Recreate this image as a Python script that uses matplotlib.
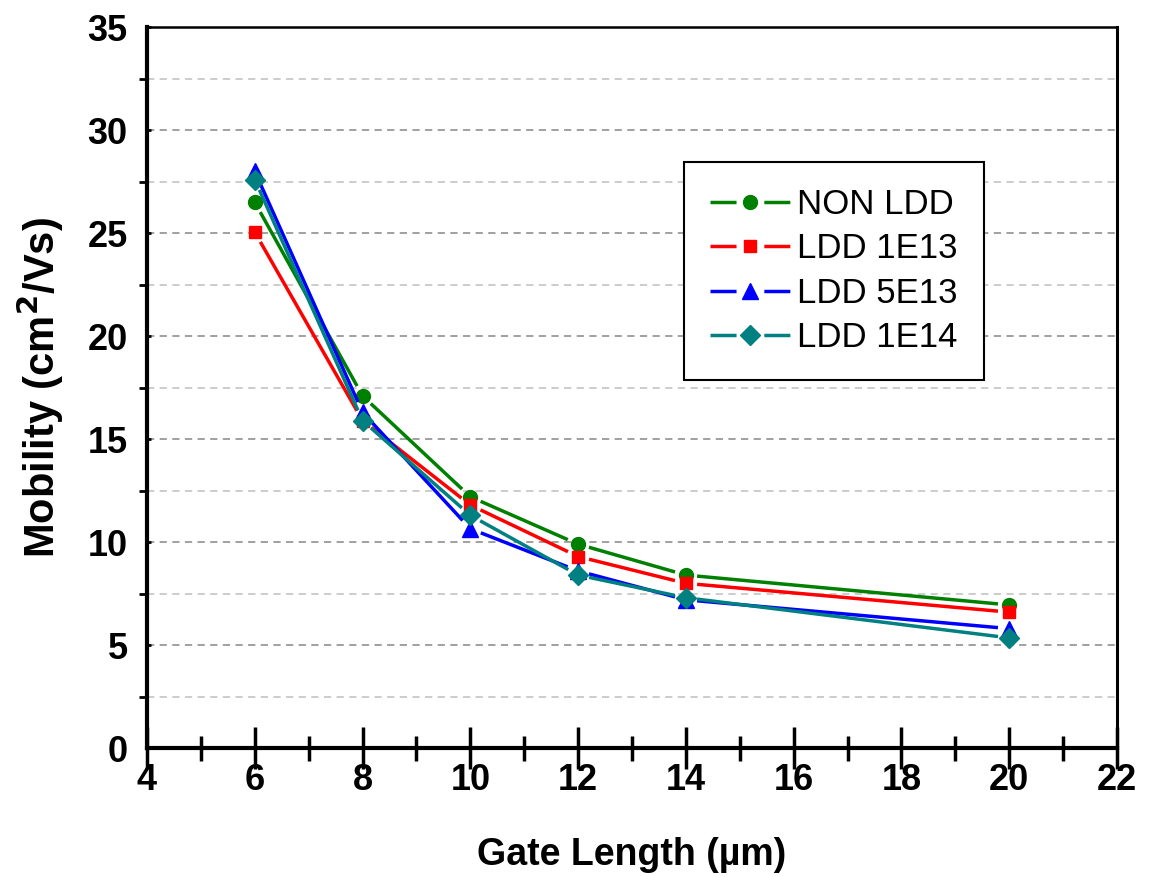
import matplotlib.pyplot as plt
import numpy as np
from matplotlib.ticker import MultipleLocator
from matplotlib.lines import Line2D

plt.rcParams['font.family'] = ['Liberation Sans', 'DejaVu Sans']

gate_length = [6, 8, 10, 12, 14, 20]
non_ldd = [26.5, 17.1, 12.2, 9.9, 8.4, 6.95]
ldd_1e13 = [25.05, 15.9, 11.8, 9.3, 8.0, 6.6]
ldd_5e13 = [28.0, 16.3, 10.65, 8.6, 7.2, 5.8]
ldd_1e14 = [27.6, 15.9, 11.3, 8.4, 7.3, 5.35]

series = [
    ('NON LDD', non_ldd, '#008000', 'o', 10),
    ('LDD 1E13', ldd_1e13, '#ff0000', 's', 9),
    ('LDD 5E13', ldd_5e13, '#0000ff', '^', 12),
    ('LDD 1E14', ldd_1e14, '#008080', 'D', 10),
]

fig = plt.figure(figsize=(11.52, 8.77), dpi=100)
ax = fig.add_axes([0.1276, 0.147, 0.842, 0.822])
ax.set_xlim(4, 22)
ax.set_ylim(0, 35)

# gridlines (major darker, minor lighter)
ax.yaxis.set_major_locator(MultipleLocator(5))
ax.yaxis.set_minor_locator(MultipleLocator(2.5))
ax.xaxis.set_major_locator(MultipleLocator(2))
ax.xaxis.set_minor_locator(MultipleLocator(1))
ax.grid(axis='y', which='major', color='#999999', linestyle=(0, (4, 3)), linewidth=1.3)
ax.grid(axis='y', which='minor', color='#c8c8c8', linestyle=(0, (4, 3)), linewidth=1.3)
ax.set_axisbelow(True)

# lines stop short of the markers, like the original chart
gap = 13  # pixels
handles = []
for name, vals, col, mk, ms in series:
    pts = ax.transData.transform(np.column_stack([gate_length, vals]))
    for p0, p1 in zip(pts[:-1], pts[1:]):
        d = p1 - p0
        u = d / np.hypot(*d)
        a = ax.transData.inverted().transform([p0 + u * gap, p1 - u * gap])
        ax.plot(a[:, 0], a[:, 1], color=col, linewidth=2.5)
    ax.plot(gate_length, vals, linestyle='none', color=col, marker=mk, markersize=ms)
    handles.append(Line2D([], [], color=col, marker=mk, markersize=ms, linewidth=2.5,
                          linestyle=(0, (7.5, 8.0, 7.5, 100))))

ax.spines['left'].set_linewidth(3)
ax.spines['bottom'].set_linewidth(3)
ax.spines['top'].set_linewidth(1.8)
ax.spines['right'].set_linewidth(2.2)

ax.tick_params(axis='x', which='major', direction='inout', length=30, width=2.5, labelsize=26, pad=-4)
ax.tick_params(axis='x', which='minor', direction='inout', length=18, width=2.5)
ax.tick_params(axis='y', which='major', direction='in', length=3, width=2, labelsize=26, pad=14)
ax.tick_params(axis='y', which='minor', direction='out', length=6, width=2)
for lab in ax.get_xticklabels() + ax.get_yticklabels():
    lab.set_fontweight('bold')

ax.set_xlabel('Gate Length (\u00b5m)', fontsize=27, fontweight='bold', labelpad=28)
ax.set_ylabel('Mobility (cm$^{\\mathbf{2}}$/Vs)', fontsize=30, fontweight='bold', labelpad=15)

leg = ax.legend(handles, [s[0] for s in series], loc='upper left', bbox_to_anchor=(0.554, 0.813),
                borderaxespad=0, fontsize=25, fancybox=False, edgecolor='black', framealpha=1,
                handlelength=2.3, borderpad=0.75, labelspacing=0.33, handletextpad=0.2)
leg.get_frame().set_linewidth(1.5)

fig.savefig('out.png', dpi=100)
